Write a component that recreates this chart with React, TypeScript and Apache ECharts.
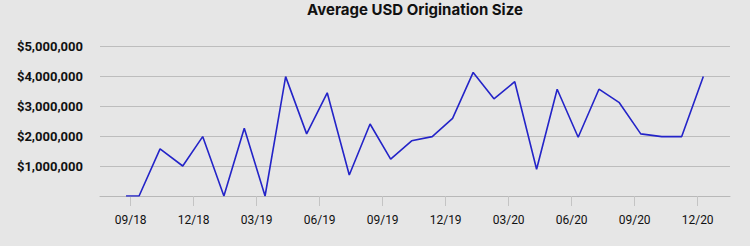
import React, { useEffect, useRef } from "react";
import * as echarts from "echarts";

const titleText = "Average USD Origination Size";
const tickLabels = ["09/18", "12/18", "03/19", "06/19", "09/19", "12/19", "03/20", "06/20", "09/20", "12/20"];
const tickMonths = [0, 3, 6, 9, 12, 15, 18, 21, 24, 27];
// month position of each observation (0 = 09/18)
const pointMonths = [
  -0.22, 0.4, 1.4, 2.48, 3.43, 4.44, 5.41, 6.4, 7.38, 8.38, 9.36, 10.41, 11.4, 12.38, 13.38,
  14.36, 15.33, 16.31, 17.3, 18.29, 19.33, 20.31, 21.31, 22.3, 23.27, 24.29, 25.29, 26.24, 27.27,
];
const values = [
  0, 0, 1570000, 1000000, 1980000, 0, 2260000, 0, 3980000, 2070000, 3440000, 700000, 2400000,
  1230000, 1840000, 1980000, 2590000, 4120000, 3240000, 3810000, 890000, 3560000, 1960000,
  3560000, 3110000, 2070000, 1980000, 1980000, 3980000,
];

export default function App() {
  const ref = useRef<HTMLDivElement>(null);
  useEffect(() => {
    document.body.style.margin = "0";
    const chart = echarts.init(ref.current!, null, { renderer: "svg" });
    chart.setOption({
      animation: false,
      backgroundColor: "#e6e6e6",
      textStyle: { fontFamily: "Roboto" },
      title: {
        text: titleText,
        left: 415,
        top: 0,
        padding: [0, 0, 0, 0],
        textAlign: "center",
        textStyle: { fontSize: 15, fontWeight: "bold", color: "#111", fontFamily: "Inter", lineHeight: 18 },
      },
      grid: { left: 100, right: 20, top: 46, bottom: 50 },
      xAxis: {
        type: "value",
        min: -1.46,
        max: 28.54,
        axisLine: { show: true, lineStyle: { color: "#b8b8b8", width: 1 } },
        axisTick: { show: true, customValues: tickMonths, length: 10, lineStyle: { color: "#c4c4c4" } },
        axisLabel: {
          customValues: tickMonths,
          margin: 18,
          fontSize: 12,
          color: "#111",
          formatter: (v: number) => {
            const i = tickMonths.indexOf(Math.round(v));
            return i >= 0 ? tickLabels[i] : "";
          },
        },
        splitLine: { show: false },
      },
      yAxis: {
        type: "value",
        min: 0,
        max: 5000000,
        interval: 1000000,
        axisLine: { show: false },
        axisTick: { show: false },
        axisLabel: {
          margin: 17,
          fontSize: 13,
          fontWeight: "bold",
          color: "#111",
          formatter: (v: number) => (v === 0 ? "" : "$" + v.toLocaleString("en-US")),
        },
        splitLine: { lineStyle: { color: "#bdbdbd", width: 1 } },
      },
      series: [
        {
          type: "line",
          data: pointMonths.map((m, i) => [m, values[i]]),
          symbol: "none",
          lineStyle: { color: "#2424c8", width: 1.6 },
        },
      ],
    });
    return () => chart.dispose();
  }, []);
  return <div ref={ref} style={{ width: 750, height: 246 }} />;
}
